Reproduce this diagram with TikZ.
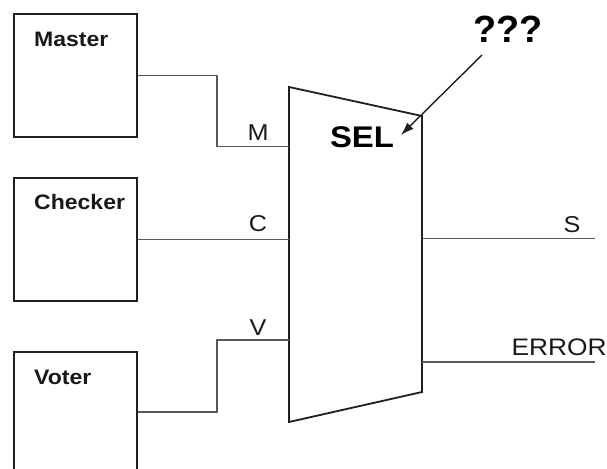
\documentclass[tikz,border=0pt]{standalone}
\usepackage{fontspec}
\setmainfont{Liberation Sans}
\usetikzlibrary{arrows.meta,calc}
\newcommand{\wtext}[1]{\scalebox{1.1}[1]{#1}}
\begin{document}
\begin{tikzpicture}[x=1bp,y=-1bp,
  blk/.style={draw=black!88,line width=1.7bp,inner sep=0pt,anchor=north west,minimum width=123bp},
  blklabel/.style={anchor=base west,inner sep=0pt,font=\fontsize{21}{24}\bfseries\selectfont,text=black!90},
  wire/.style={draw=black!65,line width=1.1bp},
  pinlabel/.style={anchor=base,inner sep=0pt,font=\fontsize{23}{26}\selectfont,text=black!90},
  selbody/.style={draw=black!88,line width=1.8bp,line join=miter},
  pointer/.style={draw=black!88,line width=1.4bp,-{Latex[length=13bp,width=9bp]}}]
\useasboundingbox (0,0) rectangle (607,469);
\clip (0,0) rectangle (607,469);
% blocks
\node[blk,minimum height=123bp] (master) at (13,13) {};
\node[blk,minimum height=123bp] (checker) at (13,177) {};
\node[blk,minimum height=160bp] (voter) at (13,351) {};
\node[blklabel] (lmaster) at (34,47) {\wtext{Master}};
\node[blklabel] (lchecker) at (34,210) {\wtext{Checker}};
\node[blklabel] (lvoter) at (34,384) {\wtext{Voter}};
% selector
\coordinate (tl) at (289,87);
\coordinate (tr) at (422,116);
\coordinate (br) at (422,392);
\coordinate (bl) at (289,422);
\draw[selbody] (tl) -- (tr) -- (br) -- (bl) -- cycle;
\coordinate (selM) at (289,146.5);
\coordinate (selC) at (289,238.5);
\coordinate (selV) at (289,340);
\coordinate (selS) at (422,238.5);
\coordinate (selE) at (422,362);
\coordinate (endS) at (595,238.5);
\coordinate (endE) at (595,362);
\coordinate (vout) at ($(voter.north east)+(0,61)$);
\node[anchor=base,inner sep=0pt,font=\fontsize{30}{34}\bfseries\selectfont] (sel) at (362,148) {\wtext{SEL}};
% wires
\draw[wire] (master.east) -| (217,146.5) -- (selM);
\draw[wire] (checker.east) -- (checker.east -| selC);
\draw[wire] (vout) -| (217,340) -- (selV);
\draw[wire] (selS) -- (endS);
\draw[wire] (selE) -- (endE);
% labels
\node[pinlabel] (lM) at (258,140.5) {\wtext{M}};
\node[pinlabel] (lC) at (258,232) {\wtext{C}};
\node[pinlabel] (lV) at (258,335) {\wtext{V}};
\node[pinlabel] (lS) at (572,232.5) {\wtext{S}};
\node[pinlabel,font=\fontsize{24}{27}\selectfont] (lE) at (559,355.5) {\wtext{ERROR}};
% question
\node[anchor=base,inner sep=0pt,font=\fontsize{38}{42}\bfseries\selectfont] (q) at (508,43) {???};
\coordinate (qstart) at (482,55);
\coordinate (qtip) at (401,135);
\draw[pointer] (qstart) -- (qtip);
\end{tikzpicture}
\end{document}
